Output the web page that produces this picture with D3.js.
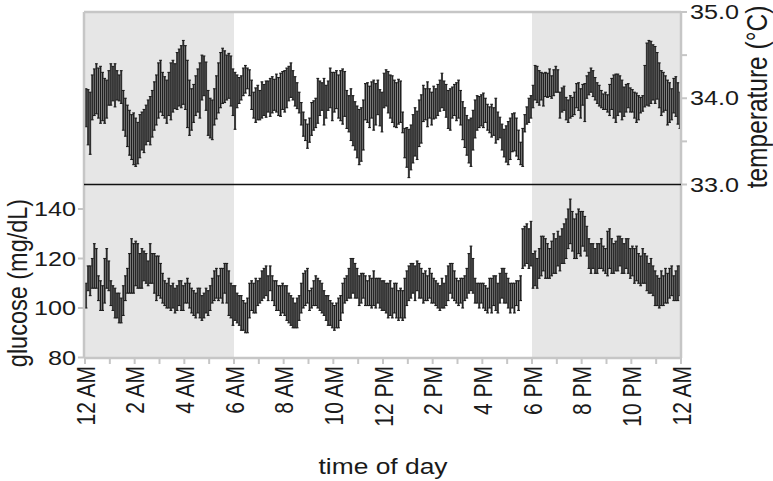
<!DOCTYPE html>
<html>
<head>
<meta charset="utf-8">
<script src="https://cdn.jsdelivr.net/npm/d3@7"></script>
<style>
  body { margin: 0; background: #fff; }
  text { font-family: "Liberation Sans", Arial, Helvetica, sans-serif; fill: #1a1a1a; }
</style>
</head>
<body>
<svg id="chart" width="773" height="481"></svg>
<script>
// ---- data (5-minute bins over 24 h, 12 values per line = 1 hour) ----
var tickHours = d3.range(0, 25);
var labelHours = [0, 2, 4, 6, 8, 10, 12, 14, 16, 18, 20, 22, 24];
var hourLabels = ["12 AM", "2 AM", "4 AM", "6 AM", "8 AM", "10 AM", "12 PM", "2 PM", "4 PM", "6 PM", "8 PM", "10 PM", "12 AM"];
var darkPeriods = [[0, 6], [18, 24]];
var tempTicks = [33, 33.5, 34, 34.5, 35];
var tempLabels = [33, 34, 35];
var glucTicks = [80, 100, 120, 140];

var tempMean = [
  33.89,33.78,33.71,34.01,34.07,34.11,34.06,34.04,34.02,33.97,33.99,34.12,
  34.16,34.17,34.15,34.15,34.12,34.13,33.86,33.78,33.68,33.60,33.55,33.53,
  33.49,33.48,33.56,33.62,33.62,33.69,33.74,33.74,33.82,33.91,33.98,34.09,
  34.14,34.05,34.01,33.96,34.05,34.08,34.14,34.14,34.20,34.24,34.25,34.30,
  34.24,34.05,33.89,33.87,33.94,34.03,34.09,34.09,34.24,34.26,34.14,33.83,
  33.77,33.75,33.90,34.01,34.12,34.21,34.26,34.25,34.24,34.26,34.20,34.07,
  33.97,34.08,34.09,34.12,34.19,34.22,34.23,34.18,34.04,33.92,33.92,33.95,
  33.92,33.98,33.98,33.99,34.02,34.01,34.04,34.04,34.06,34.02,34.04,34.09,
  34.08,34.12,34.17,34.21,34.15,34.08,34.03,33.95,33.82,33.70,33.63,33.56,
  33.63,33.76,33.80,33.83,33.97,34.00,34.02,33.96,33.96,34.03,34.12,34.02,
  34.07,34.10,34.02,34.03,34.02,34.05,33.87,33.82,33.81,33.74,33.68,33.61,
  33.55,33.58,33.69,33.96,33.95,33.90,33.98,33.92,33.93,34.01,33.89,33.84,
  34.09,34.12,34.07,34.02,33.99,33.94,33.92,33.96,33.96,33.72,33.48,33.43,
  33.36,33.43,33.53,33.61,33.57,33.71,33.76,33.94,33.93,33.93,33.94,33.88,
  33.95,33.94,33.98,34.03,34.09,34.03,33.97,33.87,33.87,33.95,33.98,33.96,
  33.99,33.89,33.74,33.66,33.57,33.50,33.49,33.63,33.76,33.83,33.84,33.86,
  33.86,33.86,33.78,33.75,33.74,33.73,33.74,33.68,33.66,33.55,33.48,33.47,
  33.48,33.53,33.60,33.61,33.55,33.46,33.36,33.43,33.71,33.80,33.86,33.90,
  34.02,34.18,34.16,34.12,34.14,34.10,34.16,34.15,34.18,34.13,34.18,34.22,
  34.20,33.92,33.98,34.00,33.88,33.85,33.90,33.90,33.94,34.03,34.02,33.94,
  34.04,33.95,34.13,34.17,34.21,34.17,34.11,34.06,34.03,33.99,33.96,33.97,
  33.94,33.98,34.05,34.02,34.00,34.04,34.05,33.98,33.96,34.00,34.03,33.98,
  33.97,33.92,33.89,33.89,33.92,33.94,34.14,34.28,34.29,34.30,34.30,34.27,
  34.26,34.15,34.06,34.07,34.06,33.95,33.95,33.93,34.03,34.02,33.94,33.86
];
var tempErr = [
  0.22,0.32,0.36,0.26,0.27,0.29,0.29,0.33,0.28,0.26,0.22,0.20,
  0.24,0.20,0.25,0.17,0.15,0.19,0.23,0.22,0.24,0.26,0.26,0.30,
  0.28,0.24,0.25,0.22,0.25,0.23,0.24,0.28,0.27,0.28,0.29,0.32,
  0.30,0.25,0.24,0.25,0.25,0.33,0.30,0.26,0.33,0.33,0.36,0.37,
  0.37,0.39,0.32,0.24,0.22,0.23,0.25,0.32,0.26,0.23,0.28,0.26,
  0.23,0.23,0.21,0.25,0.29,0.32,0.32,0.30,0.26,0.26,0.29,0.27,
  0.33,0.19,0.15,0.14,0.16,0.16,0.12,0.15,0.17,0.15,0.20,0.20,
  0.17,0.21,0.18,0.21,0.18,0.22,0.21,0.18,0.22,0.22,0.25,0.22,
  0.24,0.23,0.20,0.20,0.17,0.17,0.15,0.12,0.13,0.14,0.12,0.14,
  0.14,0.19,0.17,0.17,0.26,0.20,0.16,0.27,0.19,0.17,0.23,0.28,
  0.23,0.22,0.25,0.29,0.32,0.26,0.22,0.21,0.30,0.29,0.28,0.30,
  0.32,0.31,0.29,0.21,0.23,0.24,0.21,0.29,0.24,0.20,0.21,0.23,
  0.20,0.21,0.24,0.25,0.27,0.27,0.26,0.26,0.24,0.12,0.17,0.23,
  0.28,0.26,0.28,0.28,0.28,0.27,0.28,0.21,0.18,0.26,0.17,0.19,
  0.19,0.17,0.18,0.18,0.20,0.17,0.19,0.22,0.24,0.18,0.18,0.22,
  0.22,0.20,0.22,0.23,0.23,0.25,0.28,0.23,0.22,0.20,0.18,0.18,
  0.20,0.14,0.15,0.15,0.19,0.16,0.26,0.16,0.12,0.15,0.16,0.21,
  0.25,0.24,0.22,0.22,0.22,0.17,0.13,0.22,0.10,0.10,0.14,0.13,
  0.13,0.20,0.21,0.20,0.16,0.19,0.14,0.14,0.16,0.13,0.15,0.15,
  0.13,0.15,0.14,0.14,0.13,0.13,0.13,0.11,0.13,0.14,0.16,0.17,
  0.12,0.22,0.13,0.13,0.14,0.15,0.13,0.12,0.12,0.10,0.09,0.10,
  0.10,0.18,0.18,0.25,0.28,0.24,0.21,0.23,0.17,0.16,0.14,0.14,
  0.13,0.15,0.17,0.14,0.09,0.09,0.24,0.36,0.38,0.36,0.32,0.33,
  0.27,0.26,0.26,0.23,0.20,0.26,0.23,0.18,0.20,0.23,0.24,0.21
];
var glucMean = [
  105,112,111,114,117,116,108,105,104,111,116,113,
  106,104,102,101,100,99,103,108,111,114,117,116,
  118,117,115,116,117,116,114,118,116,114,112,113,
  111,108,106,105,106,104,105,103,104,106,105,104,
  106,107,105,103,102,101,103,102,100,101,103,102,
  104,107,109,110,108,110,109,112,110,106,103,101,
  102,100,99,98,97,96,97,103,105,104,105,106,
  107,109,110,111,108,112,108,106,105,104,103,104,
  103,102,100,99,98,97,98,100,104,107,108,109,
  103,104,106,107,106,105,104,102,100,99,98,97,
  96,97,98,100,104,107,108,110,112,113,111,110,
  107,108,109,107,106,107,106,108,106,107,106,105,
  105,104,103,104,102,104,103,101,102,101,104,108,
  110,111,112,110,113,111,110,108,109,108,110,108,
  107,106,105,104,106,105,107,110,112,111,109,107,
  106,107,106,108,110,114,116,113,107,106,105,106,
  105,104,103,106,105,107,106,104,108,110,109,108,
  106,104,105,104,106,105,108,124,125,126,124,126,
  115,116,114,118,121,122,120,119,118,120,122,121,
  124,122,125,126,128,132,135,131,128,129,131,130,
  132,130,127,122,120,121,119,120,121,122,120,119,
  122,124,121,120,121,122,123,121,120,122,121,118,
  119,117,118,116,115,117,116,114,112,113,111,108,
  107,106,108,107,109,108,110,111,108,109,110,111
];
var glucErr = [
  5,5,6,6,9,8,5,6,5,9,8,6,
  5,5,6,5,6,5,6,5,5,8,11,10,
  9,9,7,8,6,6,5,8,6,8,9,8,
  7,6,5,5,6,5,5,5,5,5,6,5,
  4,5,5,5,5,5,5,6,5,5,5,5,
  5,5,6,6,5,6,7,6,8,9,7,8,
  7,6,6,7,6,6,7,7,6,6,7,5,
  5,6,6,6,5,5,5,5,6,5,6,6,
  6,7,6,6,6,5,6,5,6,7,7,7,
  4,4,5,6,6,6,6,5,5,6,5,5,
  5,5,6,5,6,5,5,6,8,7,7,6,
  6,6,5,6,5,6,6,7,6,5,6,6,
  6,6,7,7,6,6,7,6,6,6,8,7,
  7,7,6,7,6,7,6,6,6,5,6,6,
  5,5,5,5,6,5,6,7,6,7,6,5,
  5,5,6,5,6,8,9,7,5,4,5,4,
  5,5,5,6,7,6,7,6,6,6,7,6,
  6,6,5,6,5,6,5,8,8,8,8,9,
  7,7,6,6,8,7,8,7,6,7,8,7,
  7,7,7,8,8,8,9,8,8,9,9,9,
  7,7,6,6,6,5,5,6,5,6,5,5,
  9,8,7,6,6,7,6,7,6,6,7,6,
  6,7,7,6,6,7,6,7,6,7,6,7,
  6,6,7,6,7,6,6,6,5,6,7,6
];

// ---- layout ----
var svg = d3.select("#chart");
var plotL = 85, plotR = 681, plotT = 12, plotMid = 184.5, plotB = 358;
var frameColor = "#c6c6c6", shadeColor = "#e6e6e6", barColor = "#1e1e1e", bandColor = "#616161";
var stretch = 1.2; // the picture's glyphs are slightly wide

var x = d3.scaleLinear().domain([0, 24]).range([plotL, plotR]);
var yT = d3.scaleLinear().domain([33, 35]).range([plotMid, plotT]);
var yG = d3.scaleLinear().domain([80, 140]).range([357.5, 209]);
var step = x(1 / 12) - x(0);

// dark-period shading
svg.selectAll("rect.shade").data(darkPeriods).enter().append("rect")
  .attr("class", "shade")
  .attr("x", function(d) { return x(d[0]); })
  .attr("width", function(d) { return x(d[1]) - x(d[0]); })
  .attr("y", plotT).attr("height", plotB - plotT)
  .attr("fill", shadeColor);

// error bars: grey band per bin, then the bar line with caps
function errorBars(means, errs, y, cls) {
  var pts = means.map(function(m, i) { return {t: (i + 0.5) / 12, lo: m - errs[i], hi: m + errs[i]}; });
  var g = svg.append("g").attr("class", cls);
  g.selectAll("rect.band").data(pts).enter().append("rect").attr("class", "band")
    .attr("x", function(d) { return x(d.t) - step / 2; }).attr("width", step)
    .attr("y", function(d) { return y(d.hi); })
    .attr("height", function(d) { return y(d.lo) - y(d.hi); })
    .attr("fill", bandColor);
  var lines = g.append("g").attr("stroke", barColor).attr("stroke-width", 1.1);
  lines.selectAll("line.v").data(pts).enter().append("line").attr("class", "v")
    .attr("x1", function(d) { return x(d.t); }).attr("x2", function(d) { return x(d.t); })
    .attr("y1", function(d) { return y(d.lo); }).attr("y2", function(d) { return y(d.hi); });
  ["lo", "hi"].forEach(function(k) {
    lines.selectAll("line." + k).data(pts).enter().append("line").attr("class", k)
      .attr("x1", function(d) { return x(d.t) - 1.4; }).attr("x2", function(d) { return x(d.t) + 1.4; })
      .attr("y1", function(d) { return y(d[k]); }).attr("y2", function(d) { return y(d[k]); });
  });
}
errorBars(tempMean, tempErr, yT, "temp");
errorBars(glucMean, glucErr, yG, "gluc");

// frame
var frame = svg.append("g").attr("stroke", frameColor).attr("stroke-width", 2.5).attr("fill", "none");
frame.append("line").attr("x1", plotL - 1).attr("x2", plotL - 1).attr("y1", plotT).attr("y2", plotB);
frame.append("line").attr("x1", plotR).attr("x2", plotR).attr("y1", plotT).attr("y2", plotB);
frame.append("line").attr("x1", plotL - 1).attr("x2", plotR).attr("y1", plotT).attr("y2", plotT);
frame.append("line").attr("x1", plotL - 1).attr("x2", plotR).attr("y1", plotB).attr("y2", plotB);

// panel divider
svg.append("line").attr("x1", plotL - 1).attr("x2", plotR).attr("y1", plotMid).attr("y2", plotMid)
  .attr("stroke", "#111").attr("stroke-width", 1.5);

// ticks
var ticks = svg.append("g").attr("stroke", frameColor).attr("stroke-width", 2);
ticks.selectAll("line.xt").data(tickHours).enter().append("line").attr("class", "xt")
  .attr("x1", function(d) { return x(d); }).attr("x2", function(d) { return x(d); })
  .attr("y1", plotB).attr("y2", plotB + 6);
ticks.selectAll("line.rt").data(tempTicks).enter().append("line").attr("class", "rt")
  .attr("x1", plotR).attr("x2", plotR + 6)
  .attr("y1", function(d) { return yT(d); }).attr("y2", function(d) { return yT(d); });
ticks.selectAll("line.lt").data(glucTicks).enter().append("line").attr("class", "lt")
  .attr("x1", plotL - 1).attr("x2", plotL - 7)
  .attr("y1", function(d) { return yG(d); }).attr("y2", function(d) { return yG(d); });

// text helper
function label(px, py, rot, txt, anchor, size) {
  svg.append("text")
    .attr("transform", "translate(" + px + "," + py + ") scale(" + stretch + ",1) rotate(" + rot + ")")
    .attr("text-anchor", anchor)
    .attr("dominant-baseline", "central")
    .style("font-size", size + "px")
    .text(txt);
}

tempLabels.forEach(function(v) { label(plotR + 9, yT(v), 0, d3.format(".1f")(v), "start", 21); });
glucTicks.forEach(function(v) { label(plotL - 9, yG(v), 0, v, "end", 21); });
labelHours.forEach(function(h, i) { label(x(h) + 1, plotB + 8, -90, hourLabels[i], "end", 21); });

label(383, 466, 0, "time of day", "middle", 22);
label(17, 283, -90, "glucose (mg/dL)", "middle", 23.5);
label(757, 97, -90, "temperature (\u00B0C)", "middle", 24.5);
</script>
</body>
</html>
